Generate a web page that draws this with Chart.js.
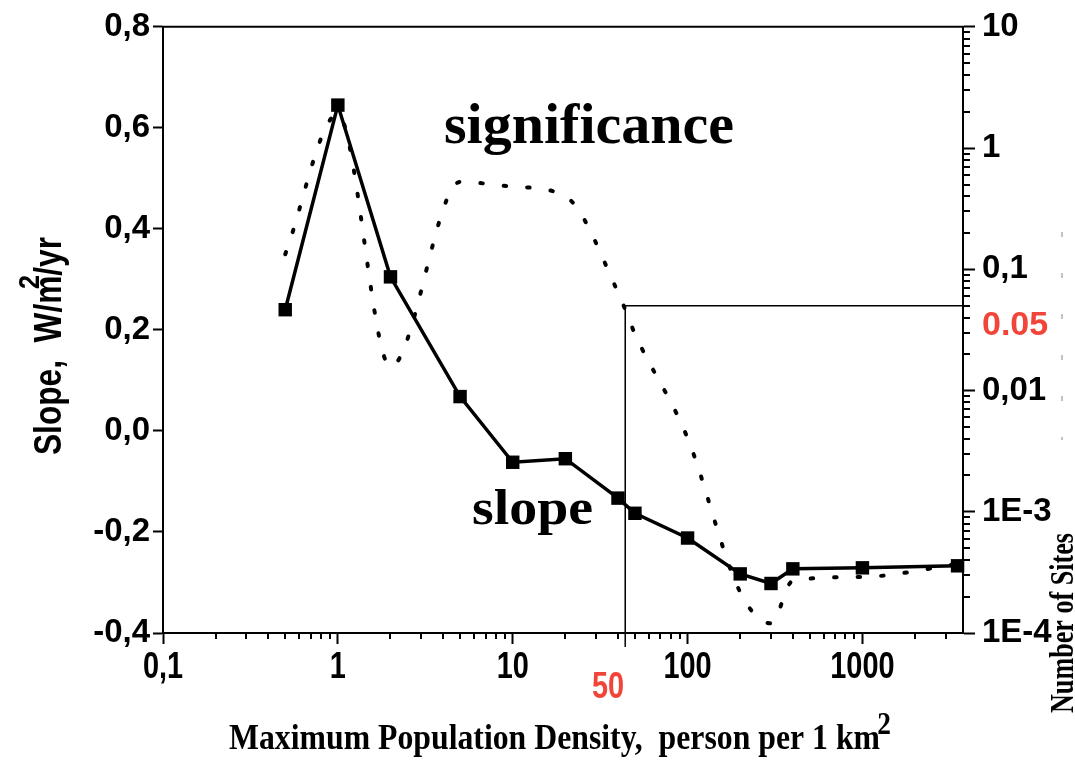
<!DOCTYPE html>
<html>
<head>
<meta charset="utf-8">
<script src="https://cdn.jsdelivr.net/npm/chart.js@4.4.1/dist/chart.umd.min.js"></script>
<style>
  html, body { margin: 0; padding: 0; background: #fff; }
  #wrap { width: 1075px; height: 761px; }
</style>
</head>
<body>
<div id="wrap"><canvas id="chart" width="1075" height="761"></canvas></div>
<script>
// population density (person per km2)
const densities = [0.5, 1, 2, 5, 10, 20, 40, 50, 100, 200, 300, 400, 1000, 3500];
// slope, W/m2/yr (left axis)
const slopeValues = [0.24, 0.645, 0.305, 0.068, -0.062, -0.055, -0.133, -0.163, -0.212, -0.283, -0.302, -0.273, -0.271, -0.267];
// significance (right axis, log)
const significanceValues = [0.133, 1.9, 0.0157, 0.526, 0.48, 0.40, 0.0647, 0.0293, 0.00405, 0.000217, 0.00012, 0.00027, 0.00029, 0.00037];

const leftTicks = [-0.4, -0.2, 0, 0.2, 0.4, 0.6, 0.8];
const leftTickLabels = ['-0,4', '-0,2', '0,0', '0,2', '0,4', '0,6', '0,8'];
const bottomTicks = [0.1, 1, 10, 100, 1000];
const bottomTickLabels = ['0,1', '1', '10', '100', '1000'];
const rightTicks = [1e-4, 1e-3, 0.01, 0.1, 1, 10];
const rightTickLabels = ['1E-4', '1E-3', '0,01', '0,1', '1', '10'];

const xMax = 3760;
const cutoffDensity = 44;      // where the threshold line sits in the figure (labelled "50")
const cutoffSignificance = 0.05;

const RED = '#f2453a';

function labelFor(list, labels, v) {
  const i = list.findIndex(t => Math.abs(t - v) <= Math.abs(t) * 1e-6);
  return i >= 0 ? labels[i] : '';
}

function drawText(ctx, text, x, y, opts) {
  ctx.save();
  ctx.translate(x, y);
  if (opts.angle) ctx.rotate(opts.angle);
  ctx.font = opts.font;
  let sx = opts.scaleX || 1;
  if (opts.width) sx = opts.width / ctx.measureText(text).width;
  ctx.scale(sx, 1);
  ctx.textAlign = opts.align || 'left';
  ctx.textBaseline = opts.baseline || 'alphabetic';
  ctx.fillStyle = opts.color || '#000';
  ctx.fillText(text, 0, 0);
  ctx.restore();
}

const decorPlugin = {
  id: 'decor',
  afterDraw(chart) {
    const ctx = chart.ctx;
    const area = chart.chartArea;
    const xs = chart.scales.x;
    const y2 = chart.scales.y2;

    ctx.save();
    ctx.strokeStyle = '#000';
    ctx.lineWidth = 2;
    // top frame
    ctx.beginPath();
    ctx.moveTo(area.left - 1, area.top);
    ctx.lineTo(area.right + 1, area.top);
    ctx.stroke();

    // minor ticks on x
    ctx.beginPath();
    for (let d = 0.1; d < xMax; d *= 10) {
      for (let k = 2; k <= 9; k++) {
        const v = d * k;
        if (v > xMax) break;
        const px = Math.round(xs.getPixelForValue(v));
        ctx.moveTo(px, area.bottom);
        ctx.lineTo(px, area.bottom + 6);
      }
    }
    // minor ticks on right log axis
    for (let d = 1e-4; d < 10; d *= 10) {
      for (let k = 2; k <= 9; k++) {
        const py = Math.round(y2.getPixelForValue(d * k));
        ctx.moveTo(area.right, py);
        ctx.lineTo(area.right + 7, py);
      }
    }
    ctx.stroke();

    // threshold tick below axis
    ctx.lineWidth = 1.5;
    ctx.beginPath();
    const cx = xs.getPixelForValue(cutoffDensity);
    ctx.moveTo(cx, area.bottom);
    ctx.lineTo(cx, area.bottom + 14);
    ctx.stroke();

    // faint fragments near the right title
    ctx.strokeStyle = '#9a9a9a';
    ctx.lineWidth = 1.2;
    ctx.setLineDash([5, 36]);
    ctx.beginPath();
    ctx.moveTo(1062, 232);
    ctx.lineTo(1062, 440);
    ctx.stroke();
    ctx.setLineDash([]);
    ctx.restore();

    // bottom tick labels (condensed, as in the figure)
    bottomTicks.forEach((v, i) => {
      drawText(ctx, bottomTickLabels[i], xs.getPixelForValue(v), 678,
        { font: 'bold 37px "Liberation Sans"', align: 'center', scaleX: 0.78 });
    });

    // annotations
    drawText(ctx, 'significance', 589, 143, { font: 'bold 58px "Liberation Serif"', align: 'center' });
    drawText(ctx, 'slope', 472, 524, { font: 'bold 50px "Liberation Serif"', width: 121 });
    drawText(ctx, '0.05', 982, 326, { font: 'bold 34px "Liberation Sans"', baseline: 'middle', color: RED });
    drawText(ctx, '50', 608, 688, { font: 'bold 37px "Liberation Sans"', align: 'center', baseline: 'middle', scaleX: 0.78, color: RED });

    // x title
    ctx.save();
    ctx.font = 'bold 36px "Liberation Serif"';
    const xt = 'Maximum Population Density,  person per 1 km';
    const xw = ctx.measureText(xt).width;
    ctx.restore();
    const xsx = 651 / xw;
    drawText(ctx, xt, 229, 749, { font: 'bold 36px "Liberation Serif"', scaleX: xsx });
    drawText(ctx, '2', 884, 734, { font: 'bold 31px "Liberation Serif"', align: 'center', scaleX: xsx });

    // left title (rotated)
    ctx.save();
    ctx.font = 'bold 38px "Liberation Sans"';
    const p1 = 'Slope,  W/m', p2 = '/yr';
    const w1 = ctx.measureText(p1).width, w2 = ctx.measureText(p2).width;
    ctx.restore();
    const lsx = 218 / (w1 + w2);
    ctx.save();
    ctx.translate(61, 455);
    ctx.rotate(-Math.PI / 2);
    ctx.scale(lsx, 1);
    ctx.fillStyle = '#000';
    ctx.textBaseline = 'alphabetic';
    ctx.font = 'bold 38px "Liberation Sans"';
    ctx.fillText(p1, 0, 0);
    ctx.fillText(p2, w1, 0);
    ctx.font = 'bold 30px "Liberation Sans"';
    ctx.fillText('2', w1 - 16, -22);
    ctx.restore();

    // right title (rotated)
    drawText(ctx, 'Number of Sites', 1073, 623, { font: 'bold 33px "Liberation Serif"', align: 'center', angle: -Math.PI / 2, width: 180 });
  }
};

const slopePoints = densities.map((d, i) => ({ x: d, y: slopeValues[i] }));
const sigPoints = densities.map((d, i) => ({ x: d, y: significanceValues[i] }));
const cutoffPoints = [
  { x: cutoffDensity, y: 1e-4 },
  { x: cutoffDensity, y: cutoffSignificance },
  { x: xMax, y: cutoffSignificance }
];

const tickFont = { family: '"Liberation Sans"', weight: 'bold', size: 33 };

new Chart(document.getElementById('chart'), {
  type: 'line',
  data: {
    datasets: [
      {
        label: 'slope',
        data: slopePoints,
        yAxisID: 'y',
        borderColor: '#000',
        backgroundColor: '#000',
        borderWidth: 3.5,
        pointStyle: 'rect',
        pointRadius: 9.5,
        pointBorderWidth: 0,
        pointBackgroundColor: '#000',
        tension: 0,
        clip: false
      },
      {
        label: 'significance',
        data: sigPoints,
        yAxisID: 'y2',
        borderColor: '#000',
        borderWidth: 4,
        borderDash: [2.5, 21],
        borderCapStyle: 'round',
        cubicInterpolationMode: 'monotone',
        pointRadius: 0,
        clip: false
      },
      {
        label: 'threshold',
        data: cutoffPoints,
        yAxisID: 'y2',
        borderColor: '#000',
        borderWidth: 1.5,
        pointRadius: 0,
        tension: 0
      }
    ]
  },
  options: {
    responsive: false,
    animation: false,
    devicePixelRatio: 1,
    layout: { padding: { top: 22, left: 0, right: 0, bottom: 0 } },
    plugins: {
      legend: { display: false },
      tooltip: { enabled: false },
      title: { display: false }
    },
    scales: {
      x: {
        type: 'logarithmic',
        position: 'bottom',
        min: 0.1,
        max: xMax,
        afterBuildTicks: s => { s.ticks = bottomTicks.map(v => ({ value: v, major: true })); },
        afterFit: s => { s.height = 128; },
        ticks: { display: false },
        grid: { drawOnChartArea: false, tickLength: 11, tickWidth: 2, tickColor: '#000' },
        border: { color: '#000', width: 2 }
      },
      y: {
        type: 'linear',
        position: 'left',
        min: -0.4,
        max: 0.8,
        afterBuildTicks: s => { s.ticks = leftTicks.map(v => ({ value: v })); },
        afterFit: s => { s.width = 163; },
        ticks: {
          padding: 3,
          color: '#000',
          font: tickFont,
          callback: v => leftTickLabels[leftTicks.findIndex(t => Math.abs(t - v) < 1e-6)]
        },
        grid: { drawOnChartArea: false, tickLength: 10, tickWidth: 2, tickColor: '#000' },
        border: { color: '#000', width: 2 }
      },
      y2: {
        type: 'logarithmic',
        position: 'right',
        min: 1e-4,
        max: 10,
        afterBuildTicks: s => { s.ticks = rightTicks.map(v => ({ value: v, major: true })); },
        afterFit: s => { s.width = 112; },
        ticks: {
          padding: 7,
          color: '#000',
          font: tickFont,
          callback: v => labelFor(rightTicks, rightTickLabels, v)
        },
        grid: { drawOnChartArea: false, tickLength: 12, tickWidth: 2, tickColor: '#000' },
        border: { color: '#000', width: 2 }
      }
    }
  },
  plugins: [decorPlugin]
});
</script>
</body>
</html>
